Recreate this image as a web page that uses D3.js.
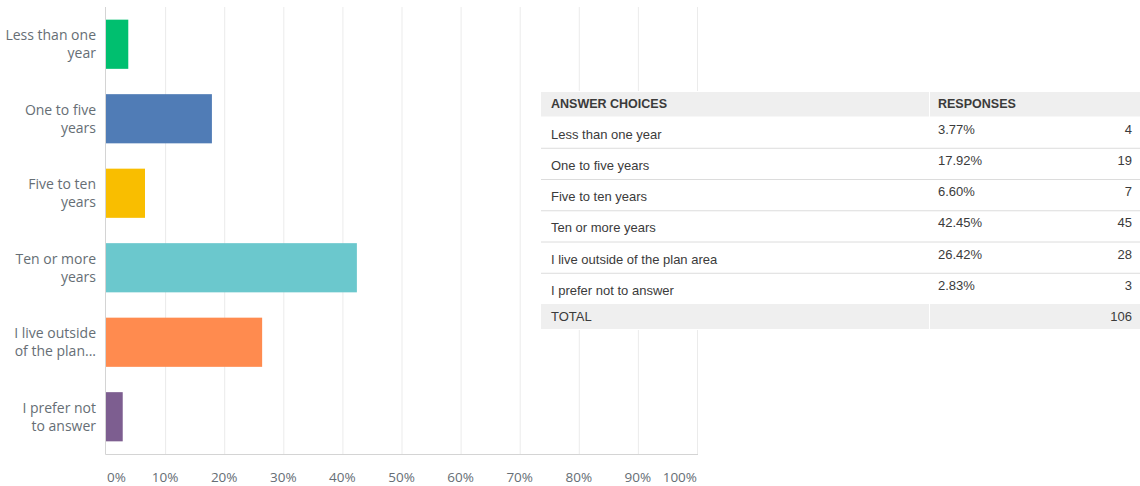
<!DOCTYPE html>
<html>
<head>
<meta charset="utf-8">
<script src="https://cdn.jsdelivr.net/npm/d3@7"></script>
<style>
  html, body { margin: 0; padding: 0; background: #fff; }
  svg { display: block; }
  .cat-label { font-family: "Open Sans", Lato, sans-serif; font-size: 14px; fill: #666e75; }
  .tick-label { font-family: "Open Sans", Lato, sans-serif; font-size: 13.5px; fill: #666e75; }
  .tbl { font-family: "Liberation Sans", Arial, sans-serif; font-size: 13px; fill: #3b3b3b; }
  .tbl-head { font-weight: bold; font-size: 12.5px; fill: #3b3b3b; }
</style>
</head>
<body>
<svg id="chart" width="1140" height="486"></svg>
<script>
// data
const categories = ["Less than one year", "One to five years", "Five to ten years", "Ten or more years", "I live outside of the plan area", "I prefer not to answer"];
const axisLabels = [["Less than one", "year"], ["One to five", "years"], ["Five to ten", "years"], ["Ten or more", "years"], ["I live outside", "of the plan..."], ["I prefer not", "to answer"]];
const percents = [3.77, 17.92, 6.60, 42.45, 26.42, 2.83];
const counts = [4, 19, 7, 45, 28, 3];
const total = 106;
const barColors = ["#00bf6f", "#507cb6", "#f9be00", "#6bc8cd", "#ff8b4f", "#7d5e90"];
const xTicks = [0, 10, 20, 30, 40, 50, 60, 70, 80, 90, 100];

const svg = d3.select("#chart");

const x = d3.scaleLinear().domain([0, 100]).range([106, 697]);
const y = d3.scaleBand().domain(categories).range([7, 454]).paddingInner(0.34).paddingOuter(0.17);

// gridlines
svg.append("g").selectAll("line").data(xTicks.slice(1)).join("line")
  .attr("x1", d => x(d) + 0.5).attr("x2", d => x(d) + 0.5)
  .attr("y1", 7).attr("y2", 454)
  .attr("stroke", "#ebebeb").attr("stroke-width", 1);

// axis lines
svg.append("line").attr("x1", x(0) - 0.5).attr("x2", x(0) - 0.5).attr("y1", 7).attr("y2", 454.5)
  .attr("stroke", "#d4d4d4");
svg.append("line").attr("x1", x(0) - 0.5).attr("x2", x(100) + 1).attr("y1", 454.5).attr("y2", 454.5)
  .attr("stroke", "#d4d4d4");

// bars
svg.append("g").selectAll("rect").data(categories).join("rect")
  .attr("x", x(0))
  .attr("y", d => y(d))
  .attr("width", (d, i) => x(percents[i]) - x(0))
  .attr("height", y.bandwidth())
  .attr("fill", (d, i) => barColors[i]);

// category labels
const lab = svg.append("g").selectAll("text").data(categories).join("text")
  .attr("class", "cat-label").attr("text-anchor", "end");
lab.each(function(d, i) {
  const c = y(d) + y.bandwidth() / 2;
  const t = d3.select(this);
  axisLabels[i].forEach((line, j) => {
    t.append("tspan").attr("x", 96).attr("y", c - 4 + j * 18).text(line);
  });
});

// tick labels
svg.append("g").selectAll("text").data(xTicks).join("text")
  .attr("class", "tick-label")
  .attr("x", d => d === 0 ? x(d) + 1 : x(d))
  .attr("y", 482)
  .attr("text-anchor", d => d === 0 ? "start" : (d === 100 ? "end" : "middle"))
  .text(d => d + "%");

// table
const tx0 = 541, tx1 = 1140, colDiv = 929;
const tbl = svg.append("g");
const rowY = d3.scaleBand().domain(categories).range([116.5, 304]);

tbl.append("rect").attr("x", tx0).attr("y", 91).attr("width", tx1 - tx0).attr("height", 239).attr("fill", "#fff");
// header
tbl.append("rect").attr("x", tx0).attr("y", 92).attr("width", colDiv - tx0).attr("height", 24.5).attr("fill", "#efefef");
tbl.append("rect").attr("x", colDiv + 1).attr("y", 92).attr("width", tx1 - colDiv - 1).attr("height", 24.5).attr("fill", "#efefef");
tbl.append("text").attr("class", "tbl tbl-head").attr("x", 551).attr("y", 108).text("ANSWER CHOICES");
tbl.append("text").attr("class", "tbl tbl-head").attr("x", 938).attr("y", 108).text("RESPONSES");

// rows
const rows = tbl.append("g").selectAll("g").data(categories).join("g")
  .attr("transform", d => `translate(0,${rowY(d)})`);
rows.filter((d, i) => i > 0).append("line")
  .attr("x1", tx0).attr("x2", tx1).attr("y1", 0.5).attr("y2", 0.5)
  .attr("stroke", "#dcdcdc");
rows.append("text").attr("class", "tbl").attr("x", 551).attr("y", 22).text(d => d);
rows.append("text").attr("class", "tbl").attr("x", 938).attr("y", 17).text((d, i) => percents[i].toFixed(2) + "%");
rows.append("text").attr("class", "tbl").attr("x", 1132).attr("y", 17).attr("text-anchor", "end").text((d, i) => counts[i]);

// total row
tbl.append("rect").attr("x", tx0).attr("y", 304).attr("width", colDiv - tx0).attr("height", 25).attr("fill", "#efefef");
tbl.append("rect").attr("x", colDiv + 1).attr("y", 304).attr("width", tx1 - colDiv - 1).attr("height", 25).attr("fill", "#efefef");
tbl.append("text").attr("class", "tbl").attr("x", 551).attr("y", 321).text("TOTAL");
tbl.append("text").attr("class", "tbl").attr("x", 1132).attr("y", 321).attr("text-anchor", "end").text(total);
</script>
</body>
</html>
